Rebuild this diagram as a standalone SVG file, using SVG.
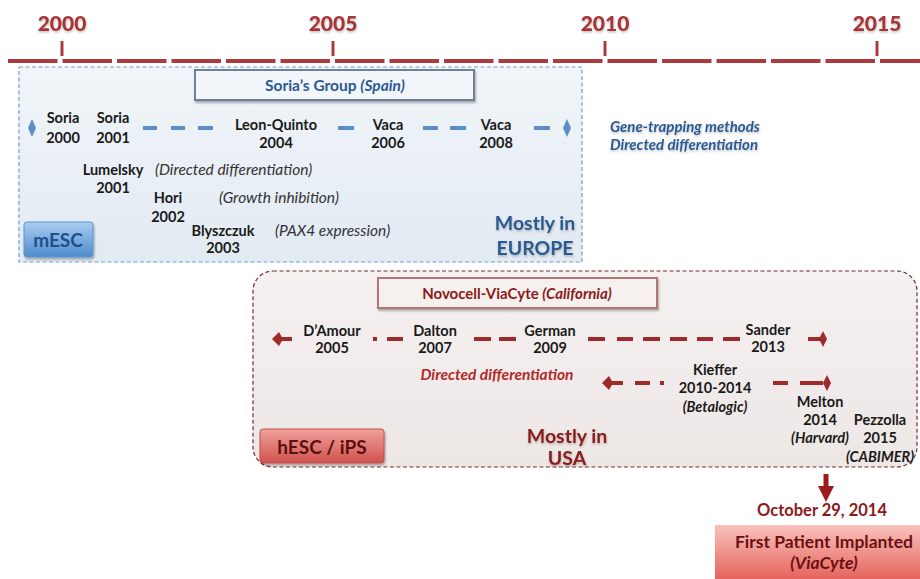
<svg xmlns="http://www.w3.org/2000/svg" width="920" height="579" viewBox="0 0 920 579">
<defs>
<style>
text{font-family:Lato,"Open Sans","Liberation Sans",sans-serif;font-weight:bold}
.yr{font-size:21px;fill:#a83434;text-anchor:middle;font-weight:900}
.lab{font-size:14.5px;fill:#1a1a1a;text-anchor:middle}
.note{font-size:15.5px;fill:#333;font-style:italic;font-weight:normal}
.blue{fill:#2c5a91}
.red{fill:#8b1a1a}
.bd{stroke:#5b8ec7;stroke-width:4;fill:none}
.rd{stroke:#9e2a2a;stroke-width:4;fill:none}
</style>
<linearGradient id="gBlueBox" x1="0" y1="0" x2="0" y2="1"><stop offset="0" stop-color="#f1f5f9"/><stop offset="1" stop-color="#e2eaf2"/></linearGradient>
<linearGradient id="gRedBox" x1="0" y1="0" x2="0" y2="1"><stop offset="0" stop-color="#f5f1f0"/><stop offset="1" stop-color="#ede7e6"/></linearGradient>
<linearGradient id="gBtnB" x1="0" y1="0" x2="0" y2="1"><stop offset="0" stop-color="#a9cdf0"/><stop offset="1" stop-color="#4f8bcc"/></linearGradient>
<linearGradient id="gBtnR" x1="0" y1="0" x2="0" y2="1"><stop offset="0" stop-color="#f0a09c"/><stop offset="1" stop-color="#d0524d"/></linearGradient>
<linearGradient id="gFP" x1="0" y1="0" x2="0" y2="1"><stop offset="0" stop-color="#f9c2bd"/><stop offset="1" stop-color="#e35a52"/></linearGradient>
<filter id="sh" x="-10%" y="-20%" width="130%" height="160%"><feDropShadow dx="1" dy="2" stdDeviation="1.2" flood-color="#000" flood-opacity="0.3"/></filter>
<filter id="tsh" x="-10%" y="-30%" width="120%" height="180%"><feDropShadow dx="0.5" dy="1.5" stdDeviation="1" flood-color="#000" flood-opacity="0.25"/></filter>
</defs>
<rect width="920" height="579" fill="#fff"/>

<g id="axis">
<line x1="8" y1="61" x2="920" y2="61" stroke="#ae3b3b" stroke-width="4" stroke-dasharray="49.5 5"/>
<g stroke="#ae3b3b" stroke-width="3"><line x1="62" y1="41" x2="62" y2="56"/><line x1="333" y1="41" x2="333" y2="56"/><line x1="605" y1="41" x2="605" y2="56"/><line x1="877" y1="41" x2="877" y2="56"/></g>
<g filter="url(#tsh)"><text class="yr" x="62" y="31">2000</text><text class="yr" x="333" y="31">2005</text><text class="yr" x="605" y="31">2010</text><text class="yr" x="877" y="31">2015</text></g>
</g>

<g id="mESC-panel">
<rect x="19" y="67" width="563" height="195" fill="url(#gBlueBox)" stroke="#6e9ed2" stroke-width="1.2" stroke-dasharray="4 2.5"/>
</g>
<g id="hESC-panel">
<rect x="253" y="271" width="664" height="196" rx="20" fill="url(#gRedBox)" stroke="#7a2a2a" stroke-width="1.2" stroke-dasharray="4 2.5"/>
</g>

<g id="connectors">
<path class="bd" d="M143 128h14M171 128h14M198 128h15M338 128h16M423 128h15M450 128h16M534 128h16"/>
<polygon points="32,119 36,128 32,137 28,128" fill="#5b8ec7"/>
<polygon points="567,119 571,128 567,137 563,128" fill="#5b8ec7"/>
<path class="rd" d="M279 339h13M373 339h4M387 339h16M474 339h17M499 339h17M588 339h17M617 339h16M643 339h17M670 339h17M697 339h16M723 339h17M808 339h14"/>
<polygon points="272,339 279,332 283,339 279,346" fill="#9e2a2a"/>
<polygon points="823,331 827,339 823,347 819,339" fill="#9e2a2a"/>
<path class="rd" d="M609 383h14M635 383h15M660 383h4M773 383h15M800 383h23"/>
<polygon points="602,383 609,376 613,383 609,390" fill="#9e2a2a"/>
<polygon points="827,375 831,383 827,391 823,383" fill="#9e2a2a"/>
<path d="M826 474v14" stroke="#9b1c1c" stroke-width="5"/>
<polygon points="818,486 834,486 826,502" fill="#9b1c1c"/>
</g>

<g id="soria-group">
<rect x="195" y="70" width="279" height="30" fill="#f2f5f9" stroke="#6d8197" stroke-width="2" filter="url(#sh)"/>
<text x="335" y="91" text-anchor="middle" font-size="15.5" class="blue">Soria’s Group <tspan font-style="italic">(Spain)</tspan></text>
</g>
<g id="soria2000"><text class="lab" x="63" y="123">Soria</text><text class="lab" x="63" y="143">2000</text></g>
<g id="soria2001"><text class="lab" x="113" y="123">Soria</text><text class="lab" x="113" y="143">2001</text></g>
<g id="leon2004"><text class="lab" x="276" y="130">Leon-Quinto</text><text class="lab" x="276" y="148">2004</text></g>
<g id="vaca2006"><text class="lab" x="388" y="130">Vaca</text><text class="lab" x="388" y="148">2006</text></g>
<g id="vaca2008"><text class="lab" x="496" y="130">Vaca</text><text class="lab" x="496" y="148">2008</text></g>
<g id="lumelsky2001"><text class="lab" x="113" y="175">Lumelsky</text><text class="lab" x="113" y="193">2001</text><text class="note" x="155" y="175">(Directed differentiation)</text></g>
<g id="hori2002"><text class="lab" x="168" y="203">Hori</text><text class="lab" x="168" y="222">2002</text><text class="note" x="219" y="203">(Growth inhibition)</text></g>
<g id="blyszczuk2003"><text class="lab" x="223" y="236">Blyszczuk</text><text class="lab" x="223" y="253">2003</text><text class="note" x="275" y="236">(PAX4 expression)</text></g>
<g id="mesc-label">
<rect x="24" y="222" width="69" height="35" rx="3" fill="url(#gBtnB)" stroke="#5f95cf" stroke-width="1" filter="url(#sh)"/>
<text x="58" y="247" text-anchor="middle" font-size="19" fill="#1f4f8d">mESC</text>
</g>
<g id="mostly-europe" filter="url(#tsh)"><text x="535" y="230" text-anchor="middle" font-size="19.5" class="blue">Mostly in</text><text x="535" y="255" text-anchor="middle" font-size="19.5" class="blue">EUROPE</text></g>
<g id="gene-trapping" filter="url(#tsh)"><text x="610" y="132" font-size="15" font-style="italic" class="blue">Gene-trapping methods</text><text x="610" y="150" font-size="15" font-style="italic" class="blue">Directed differentiation</text></g>

<g id="novocell">
<rect x="378" y="278" width="279" height="30" fill="#f6f0ef" stroke="#b27474" stroke-width="2" filter="url(#sh)"/>
<text x="517" y="299" text-anchor="middle" font-size="15" class="red">Novocell-ViaCyte <tspan font-style="italic">(California)</tspan></text>
</g>
<g id="damour2005"><text class="lab" x="332" y="336">D’Amour</text><text class="lab" x="332" y="353">2005</text></g>
<g id="dalton2007"><text class="lab" x="435" y="336">Dalton</text><text class="lab" x="435" y="353">2007</text></g>
<g id="german2009"><text class="lab" x="550" y="336">German</text><text class="lab" x="550" y="353">2009</text></g>
<g id="sander2013"><text class="lab" x="768" y="335">Sander</text><text class="lab" x="768" y="352">2013</text></g>
<g id="directed-diff"><text x="497" y="380" text-anchor="middle" font-size="15.5" font-style="italic" fill="#b02a2a">Directed differentiation</text></g>
<g id="kieffer"><text class="lab" x="715" y="375">Kieffer</text><text class="lab" x="715" y="393">2010-2014</text><text class="lab" x="715" y="412" font-style="italic">(Betalogic)</text></g>
<g id="melton"><text class="lab" x="820" y="407">Melton</text><text class="lab" x="820" y="425">2014</text><text class="lab" x="820" y="443" font-style="italic">(Harvard)</text></g>
<g id="pezzolla"><text class="lab" x="880" y="425">Pezzolla</text><text class="lab" x="880" y="443">2015</text><text class="lab" x="880" y="462" font-style="italic">(CABIMER)</text></g>
<g id="hesc-label">
<rect x="260" y="429" width="124" height="34" rx="3" fill="url(#gBtnR)" stroke="#c0504d" stroke-width="1" filter="url(#sh)"/>
<text x="322" y="454" text-anchor="middle" font-size="19" fill="#5a1010">hESC / iPS</text>
</g>
<g id="mostly-usa" filter="url(#tsh)"><text x="567" y="443" text-anchor="middle" font-size="19.5" class="red">Mostly in</text><text x="567" y="465" text-anchor="middle" font-size="19.5" class="red">USA</text></g>

<g id="october"><text x="822" y="516" text-anchor="middle" font-size="16.5" class="red">October 29, 2014</text></g>
<g id="first-patient">
<rect x="715" y="525" width="210" height="60" fill="url(#gFP)" filter="url(#sh)"/>
<text x="824" y="548" text-anchor="middle" font-size="17.5" fill="#6a1010">First Patient Implanted</text>
<text x="824" y="569" text-anchor="middle" font-size="17.5" font-style="italic" fill="#6a1010">(ViaCyte)</text>
</g>
</svg>
